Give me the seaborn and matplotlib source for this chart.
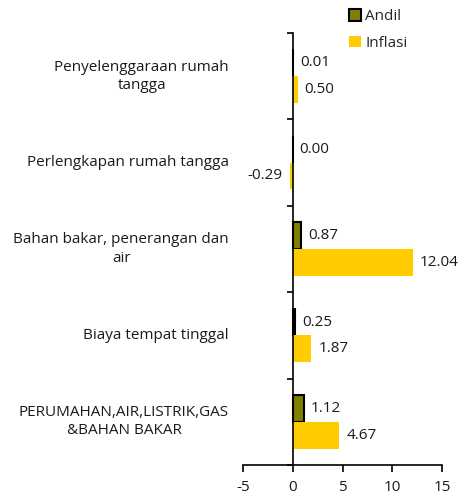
import pandas as pd
import matplotlib
matplotlib.use("Agg")
import matplotlib.pyplot as plt
import matplotlib.transforms as mtransforms
from matplotlib.patches import Patch
import seaborn as sns

# Data
kategori = [
    "Penyelenggaraan rumah\ntangga",
    "Perlengkapan rumah tangga",
    "Bahan bakar, penerangan dan\nair",
    "Biaya tempat tinggal",
    "PERUMAHAN,AIR,LISTRIK,GAS\n&BAHAN BAKAR",
]
andil = [0.01, 0.00, 0.87, 0.25, 1.12]
inflasi = [0.50, -0.29, 12.04, 1.87, 4.67]
seri = ["Andil", "Inflasi"]
x_ticks = [-5, 0, 5, 10, 15]

warna = {"Andil": "#808000", "Inflasi": "#FFCC00"}

df = pd.DataFrame({
    "kategori": kategori * 2,
    "nilai": andil + inflasi,
    "seri": [seri[0]] * len(kategori) + [seri[1]] * len(kategori),
})

sns.set_theme(style="white")
plt.rcParams["font.family"] = ["Open Sans", "DejaVu Sans"]
plt.rcParams["axes.unicode_minus"] = False
FS = 11

fig = plt.figure(figsize=(4.61, 4.95), dpi=100)
ax = fig.add_axes([243 / 461, 1 - 465 / 495, 199 / 461, 432 / 495])

sns.barplot(data=df, y="kategori", x="nilai", hue="seri", order=kategori,
            hue_order=seri, palette=warna, orient="h", width=0.62,
            saturation=1, ax=ax, legend=False)

# gaya batang
for cont, s in zip(ax.containers, seri):
    for p in cont:
        if s == "Andil":
            p.set_edgecolor("black")
            p.set_linewidth(1.5)
        else:
            p.set_edgecolor("none")
    ax.bar_label(cont, fmt="{:.2f}", padding=5, fontsize=FS, color="#1a1a1a")

ax.set_xlim(-5, 15)
ax.set_xticks(x_ticks)
ax.set_xlabel("")
ax.set_ylabel("")

# sumbu y di x=0 dengan tanda batas kategori
ax.spines["left"].set_position(("data", 0))
ax.spines["right"].set_visible(False)
ax.spines["top"].set_visible(False)
for sp in ["left", "bottom"]:
    ax.spines[sp].set_color("black")
    ax.spines[sp].set_linewidth(1.2)
ax.set_yticks([i - 0.5 for i in range(len(kategori) + 1)])
ax.set_yticklabels([])
ax.set_ylim(len(kategori) - 0.5, -0.5)
ax.tick_params(axis="y", direction="out", length=4, width=1.2, color="black", left=True)
ax.tick_params(axis="x", direction="out", length=5, width=1.2, color="black",
               bottom=True, labelsize=FS, pad=6, labelcolor="#1a1a1a")

trans = mtransforms.blended_transform_factory(ax.transAxes, ax.transData)
for i, k in enumerate(kategori):
    ax.text(-0.07, i, k, transform=trans, ha="right", va="center",
            multialignment="center", fontsize=FS, color="#1a1a1a",
            linespacing=1.3)

handles = [Patch(facecolor=warna["Andil"], edgecolor="black", linewidth=1.5),
           Patch(facecolor=warna["Inflasi"], edgecolor="none")]
fig.legend(handles, seri, loc="upper left", bbox_to_anchor=(346 / 461, 1 - 6 / 495),
           frameon=False, fontsize=FS, handlelength=0.8, handleheight=0.8,
           handletextpad=0.25, labelspacing=0.75, borderaxespad=0, borderpad=0.2)

fig.savefig("out.png", dpi=100)
